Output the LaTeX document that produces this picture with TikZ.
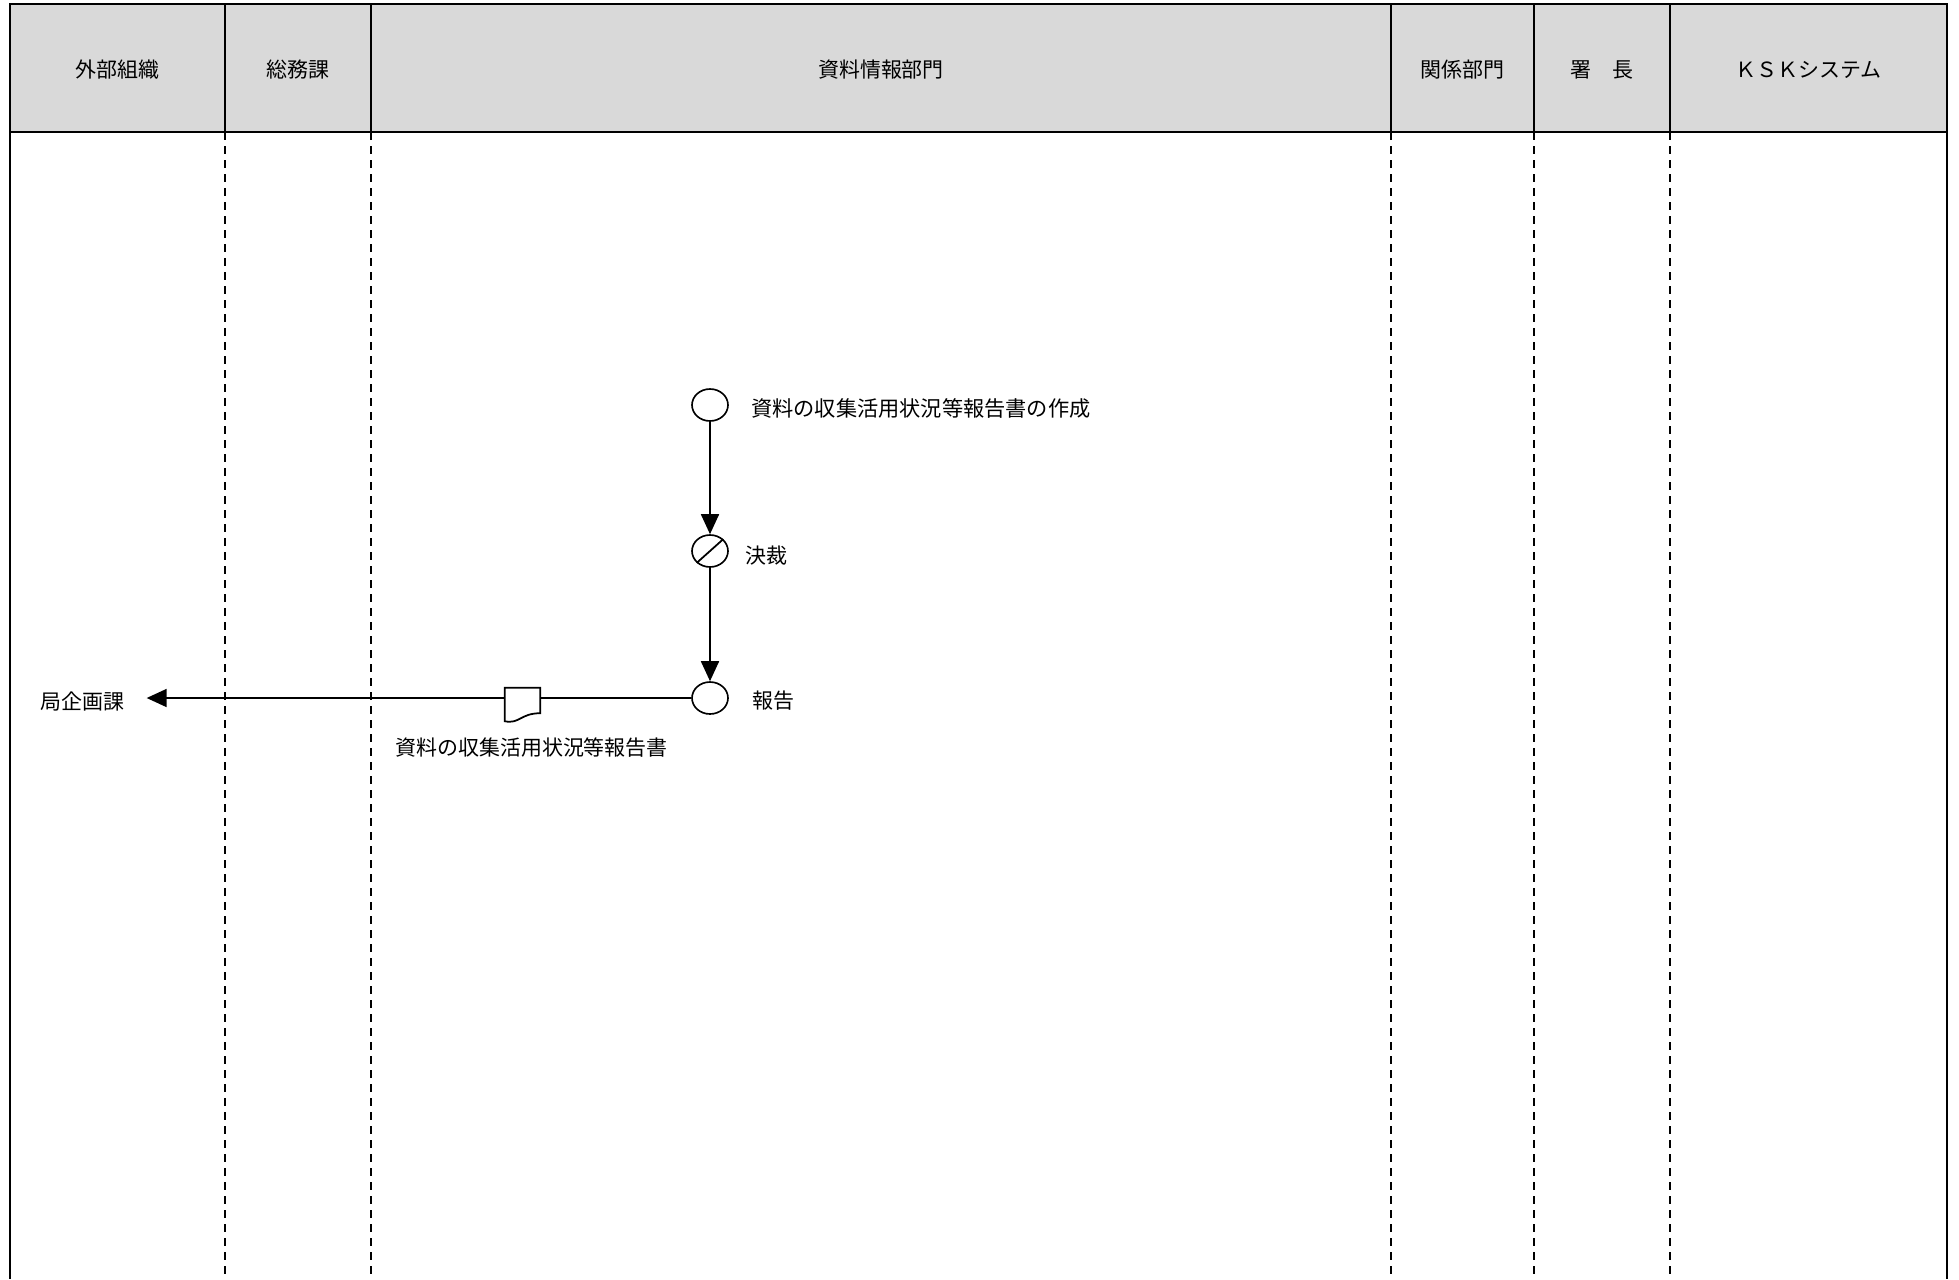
\documentclass[tikz,border=0pt]{standalone}
\usepackage{fontspec}
\setmainfont{Noto Sans CJK JP}
\usetikzlibrary{arrows.meta,shapes.geometric}
\definecolor{headgray}{HTML}{D9D9D9}

\begin{document}
\begin{tikzpicture}[x=0.03cm,y=-0.03cm,>={Triangle[length=0.6cm,width=0.54cm]},
    font=\fontsize{17.9}{20}\selectfont,
    head/.style={draw,fill=headgray,line width=1.7pt},
    lanesep/.style={line width=1.3pt,dash pattern=on 0.24cm off 0.18cm},
    border/.style={line width=1.7pt},
    proc/.style={draw,ellipse,line width=1.4pt,minimum width=1.08cm,minimum height=0.96cm,inner sep=0pt},
    flow/.style={line width=1.5pt},
    lbl/.style={anchor=west,inner sep=0pt}]
    \useasboundingbox (0,0) rectangle (1959,1279);

    % lanes
    \foreach \xa/\xb/\nm/\txt in {10/225/gaibu/外部組織,225/371/somu/総務課,
        371/1391/shiryo/資料情報部門,1391/1534/kankei/関係部門,
        1534/1670/shocho/署　長,1670/1947/ksk/ＫＳＫシステム} {
        \draw[head] (\xa,4) rectangle (\xb,132);
        \node (\nm) at ({(\xa+\xb)/2},70) {\txt};
    }
    \foreach \x in {225,371,1391,1534,1670}
        \draw[lanesep] (\x,132) -- (\x,1279);
    \draw[border] (10,132) -- (10,1279) (1947,132) -- (1947,1279);

    % flow
    \node[proc] (sakusei) at (710,405) {};
    \node[proc] (kessai) at (710,551) {};
    \node[proc] (hokoku) at (710,698) {};
    \draw[flow] (kessai.south west) -- (kessai.north east);

    \node[lbl,font=\fontsize{18.1}{21}\selectfont] (sakuseilbl) at (751,408) {資料の収集活用状況等報告書の作成};
    \node[lbl] (kessailbl) at (745,556) {決裁};
    \node[lbl] (hokokulbl) at (752,701) {報告};
    \node[inner xsep=0.66cm,inner ysep=0pt] (kyoku) at (82.5,701) {局企画課};

    \node[minimum width=1.05cm,minimum height=0.99cm,inner sep=0pt] (doc) at (522.5,704.5) {};
    \draw[flow,fill=white] (doc.south west) -- (doc.north west) -- (doc.north east)
        -- ([yshift=0.24cm]doc.south east) .. controls +(-20,0) and +(15,3) .. (doc.south west) -- cycle;
    \node[lbl] (doclbl) at (395,748) {資料の収集活用状況等報告書};

    \draw[flow,->] (sakusei) -- (kessai);
    \draw[flow,->] (kessai) -- (hokoku);
    \draw[flow] (hokoku.west) -- (hokoku.west -| doc.east);
    \draw[flow,->] (hokoku.west -| doc.west) -- (hokoku.west -| kyoku.east);
\end{tikzpicture}
\end{document}
